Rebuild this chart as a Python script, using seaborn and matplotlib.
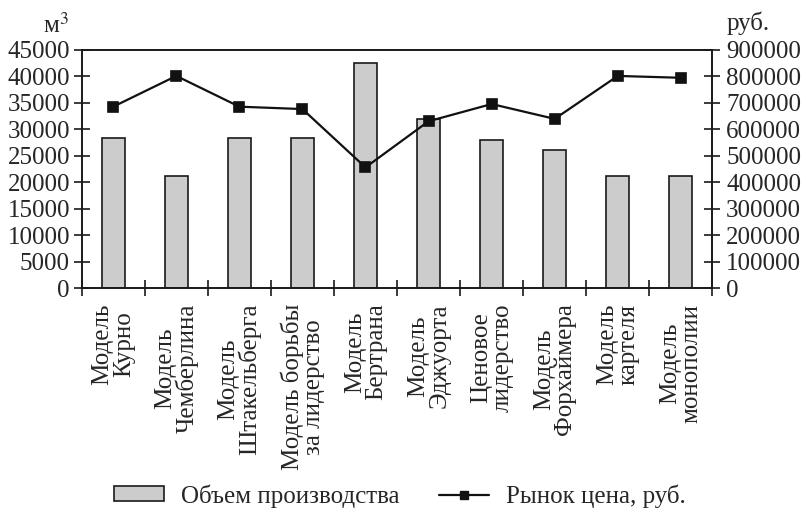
import numpy as np
import pandas as pd
import matplotlib
matplotlib.use("Agg")
import matplotlib.pyplot as plt
from matplotlib.patches import Patch
from matplotlib.lines import Line2D
from matplotlib.ticker import FixedLocator, MultipleLocator
import seaborn as sns

categories = ["Модель\nКурно", "Модель\nЧемберлина", "Модель\nШтакельберга",
              "Модель борьбы\nза лидерство", "Модель\nБертрана", "Модель\nЭджуорта",
              "Ценовое\nлидерство", "Модель\nФорхаймера", "Модель\nкартеля",
              "Модель\nмонополии"]
volume = [28333, 21250, 28333, 28333, 42500, 31875, 27900, 26150, 21250, 21250]
price = [685000, 801000, 685000, 676000, 456000, 630000, 695000, 639000, 801000, 794000]
bar_label = "Объем производства"
line_label = "Рынок цена, руб."
left_unit = "м$^{3}$"
right_unit = "руб."

sns.set_style("ticks")
plt.rcParams["font.family"] = ["Liberation Serif", "DejaVu Serif"]
plt.rcParams["mathtext.fontset"] = "stix"

FS = 18
fig = plt.figure(figsize=(8.05, 5.09), dpi=100)
ax = fig.add_axes([0.1015, 0.4336, 0.7834, 0.4688])

df = pd.DataFrame({"cat": categories, "vol": volume, "price": price})
sns.barplot(data=df, x="cat", y="vol", ax=ax, color="#cccccc", saturation=1,
            edgecolor="#1a1a1a", linewidth=1.2, width=0.37)
ax2 = ax.twinx()
sns.pointplot(data=df, x="cat", y="price", ax=ax2, color="#111111", markers="s",
              markersize=7, linewidth=1.6)

n = len(categories)
ax.set_xlim(-0.5, n - 0.5)
ax.set_ylim(0, 45000)
ax2.set_ylim(0, 900000)
ax.yaxis.set_major_locator(MultipleLocator(5000))
ax2.yaxis.set_major_locator(MultipleLocator(100000))
ax.set_xlabel("")
ax.set_ylabel("")
ax2.set_xlabel("")
ax2.set_ylabel("")

ax.xaxis.set_minor_locator(FixedLocator(np.arange(-0.5, n, 1.0)))
ax.tick_params(axis="x", which="major", length=0, pad=11, labelsize=FS)
ax.tick_params(axis="x", which="minor", direction="inout", length=11, width=1.2,
               color="#1a1a1a", bottom=True)
ax.set_xticks(range(n))
ax.set_xticklabels(categories, rotation=90, ha="center", va="top",
                   multialignment="center", fontsize=FS, linespacing=0.95)
ax.tick_params(axis="y", direction="inout", length=11, width=1.2, color="#1a1a1a",
               pad=3, labelsize=FS, right=False)
ax2.tick_params(axis="y", direction="inout", length=11, width=1.2, color="#1a1a1a",
                pad=4.5, labelsize=FS)
ax2.tick_params(axis="x", which="both", length=0, labelbottom=False)

for a in (ax, ax2):
    for s in a.spines.values():
        s.set_color("#1a1a1a")
        s.set_linewidth(1.2)

fig.text(0.086, 0.936, left_unit, ha="right", va="baseline", fontsize=FS)
fig.text(0.903, 0.942, right_unit, ha="left", va="baseline", fontsize=FS)

handles = [Patch(facecolor="#cccccc", edgecolor="#1a1a1a", linewidth=1.2),
           Line2D([], [], color="#111111", linewidth=1.6, marker="s", markersize=6)]
fig.legend(handles, [bar_label, line_label], loc="center", ncol=2,
           bbox_to_anchor=(0.497, 1 - 496 / 509), frameon=False, fontsize=FS,
           handlelength=2.0, handleheight=0.55, handletextpad=0.68,
           columnspacing=1.6)

fig.savefig("out.png", dpi=100)
